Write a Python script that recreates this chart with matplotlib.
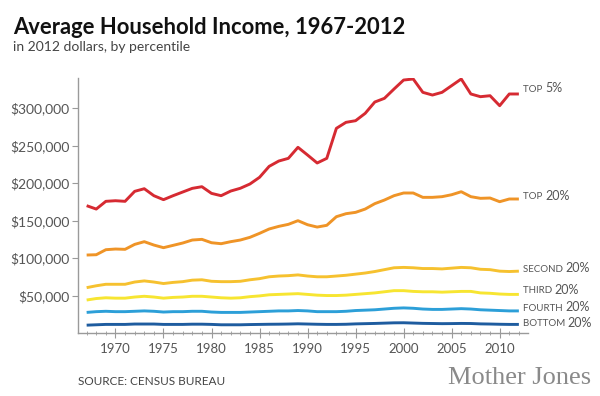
import matplotlib
matplotlib.use("Agg")
import matplotlib.pyplot as plt
from matplotlib.ticker import FuncFormatter, MultipleLocator

# Average household income by percentile, 2012 dollars
years = list(range(1967, 2013))

top5 = [169800, 165300, 175600, 176400, 175600, 188900, 192400, 183100, 177800, 183100,
        188000, 192900, 195100, 186200, 183100, 189300, 193000, 198700, 207600, 222200,
        229300, 232900, 247600, 237300, 226700, 232900, 272900, 280900, 283100, 292900,
        308000, 312900, 325300, 337300, 338700, 320900, 317300, 320900, 329800, 338700,
        318700, 315100, 316400, 303100, 318700, 318700]

top20 = [104000, 104400, 111100, 112000, 111600, 118200, 121800, 117300, 113800, 116900,
         120000, 124000, 124900, 120400, 119100, 121800, 124000, 127600, 132900, 138700,
         142200, 144900, 149800, 144400, 141300, 143600, 155100, 159100, 160900, 165300,
         172500, 177300, 183100, 186700, 186700, 180900, 180900, 181800, 184400, 188400,
         181800, 179600, 180000, 175100, 178700, 178700]

second20 = [60500, 63000, 65000, 65000, 65000, 68000, 69500, 68000, 66000, 67500,
            68500, 70500, 71000, 69000, 68500, 68500, 69000, 71000, 72500, 75000,
            76000, 76500, 77500, 76000, 75000, 75000, 76000, 77000, 78500, 80000,
            82000, 84500, 87000, 87500, 87000, 86000, 86000, 85500, 86500, 87500,
            87000, 85000, 84500, 82500, 82000, 82500]

third20 = [44000, 46000, 47000, 46500, 46500, 48000, 49000, 48000, 46500, 47500,
           48000, 49000, 49000, 48000, 47000, 46500, 47000, 48500, 49500, 51000,
           51500, 52000, 52500, 51500, 50500, 50000, 50000, 50500, 51500, 52500,
           53500, 55000, 56500, 56500, 55500, 55000, 55000, 54500, 55000, 55500,
           55500, 53500, 53000, 52000, 51500, 51500]

fourth20 = [27500, 28500, 29000, 28500, 28500, 29000, 29500, 29000, 28000, 28500,
            28500, 29000, 29000, 28000, 27500, 27500, 27500, 28000, 28500, 29000,
            29500, 29500, 30000, 29500, 28500, 28500, 28500, 29000, 30000, 30500,
            31000, 32000, 33000, 33500, 33000, 32000, 31500, 31500, 32000, 32500,
            32000, 31000, 30500, 30000, 29500, 29500]

bottom20 = [10500, 11000, 11500, 11500, 11500, 12000, 12000, 12000, 11500, 11500,
            11500, 11800, 11800, 11500, 11000, 11000, 11000, 11300, 11500, 11700,
            11800, 12000, 12300, 12000, 11700, 11500, 11500, 11700, 12200, 12500,
            12800, 13200, 13600, 13700, 13300, 12900, 12700, 12500, 12600, 12800,
            12700, 12200, 12000, 11700, 11500, 11500]

series = [
    (top5, "#d62a32", ("TOP ", "5%")),
    (top20, "#ef9427", ("TOP ", "20%")),
    (second20, "#f6c12f", ("SECOND ", "20%")),
    (third20, "#f7e531", ("THIRD ", "20%")),
    (fourth20, "#2c9fd8", ("FOURTH ", "20%")),
    (bottom20, "#1e5c9f", ("BOTTOM ", "20%")),
]

plt.rcParams['font.family'] = ['Lato', 'DejaVu Sans']

fig = plt.figure(figsize=(6, 3.96), dpi=100)
ax = fig.add_axes([0.13, 0.159, 0.75, 0.644])

for values, color, _ in series:
    ax.plot(years, values, color=color, lw=2.1, solid_capstyle='butt', solid_joinstyle='round')

ax.set_xlim(1966.1, 2012.95)
ax.set_ylim(0, 340000)

ax.xaxis.set_major_locator(MultipleLocator(5))
ax.xaxis.set_minor_locator(MultipleLocator(1))
ax.set_yticks([50000, 100000, 150000, 200000, 250000, 300000])
ax.yaxis.set_major_formatter(FuncFormatter(lambda v, p: "${:,.0f}".format(v)))

for side in ["top", "right"]:
    ax.spines[side].set_visible(False)
for side in ["left", "bottom"]:
    ax.spines[side].set_color("#9a9a9a")
    ax.spines[side].set_linewidth(1.0)

ax.tick_params(axis="x", which="major", direction="inout", length=7, width=0.8,
               colors="#9a9a9a", labelcolor="#555555", labelsize=9.5, pad=4)
ax.tick_params(axis="x", which="minor", direction="inout", length=3.5, width=0.6,
               colors="#9a9a9a")
ax.tick_params(axis="y", which="major", direction="out", length=4, width=0.8,
               colors="#9a9a9a", labelcolor="#555555", labelsize=10, pad=2)

# Series labels at the right end of each line
fig.canvas.draw()
renderer = fig.canvas.get_renderer()
label_offsets = [3.5, 2, 1.5, 3, 2, 0.7]
for (values, color, (word, pct)), dy in zip(series, label_offsets):
    t = ax.annotate(word, xy=(years[-1], values[-1]), xytext=(3, dy),
                    textcoords="offset points", fontsize=7, color="#555555",
                    va="center", ha="left", annotation_clip=False)
    w = t.get_window_extent(renderer).width * 72 / fig.dpi
    ax.annotate(pct, xy=(years[-1], values[-1]), xytext=(3 + w, dy + 0.5),
                textcoords="offset points", fontsize=9, color="#555555",
                va="center", ha="left", annotation_clip=False)

fig.text(0.022, 0.915, "Average Household Income, 1967-2012", fontsize=15.8,
         fontweight="bold", color="#111111")
fig.text(0.022, 0.872, "in 2012 dollars, by percentile", fontsize=10, color="#444444")

fig.text(0.13, 0.028, "SOURCE: CENSUS BUREAU", fontsize=8.5, color="#444444")
fig.text(0.985, 0.03, "Mother Jones", fontsize=19, color="#8a8a8a",
         family="Liberation Serif", ha="right")

fig.savefig("out.png", dpi=100)
